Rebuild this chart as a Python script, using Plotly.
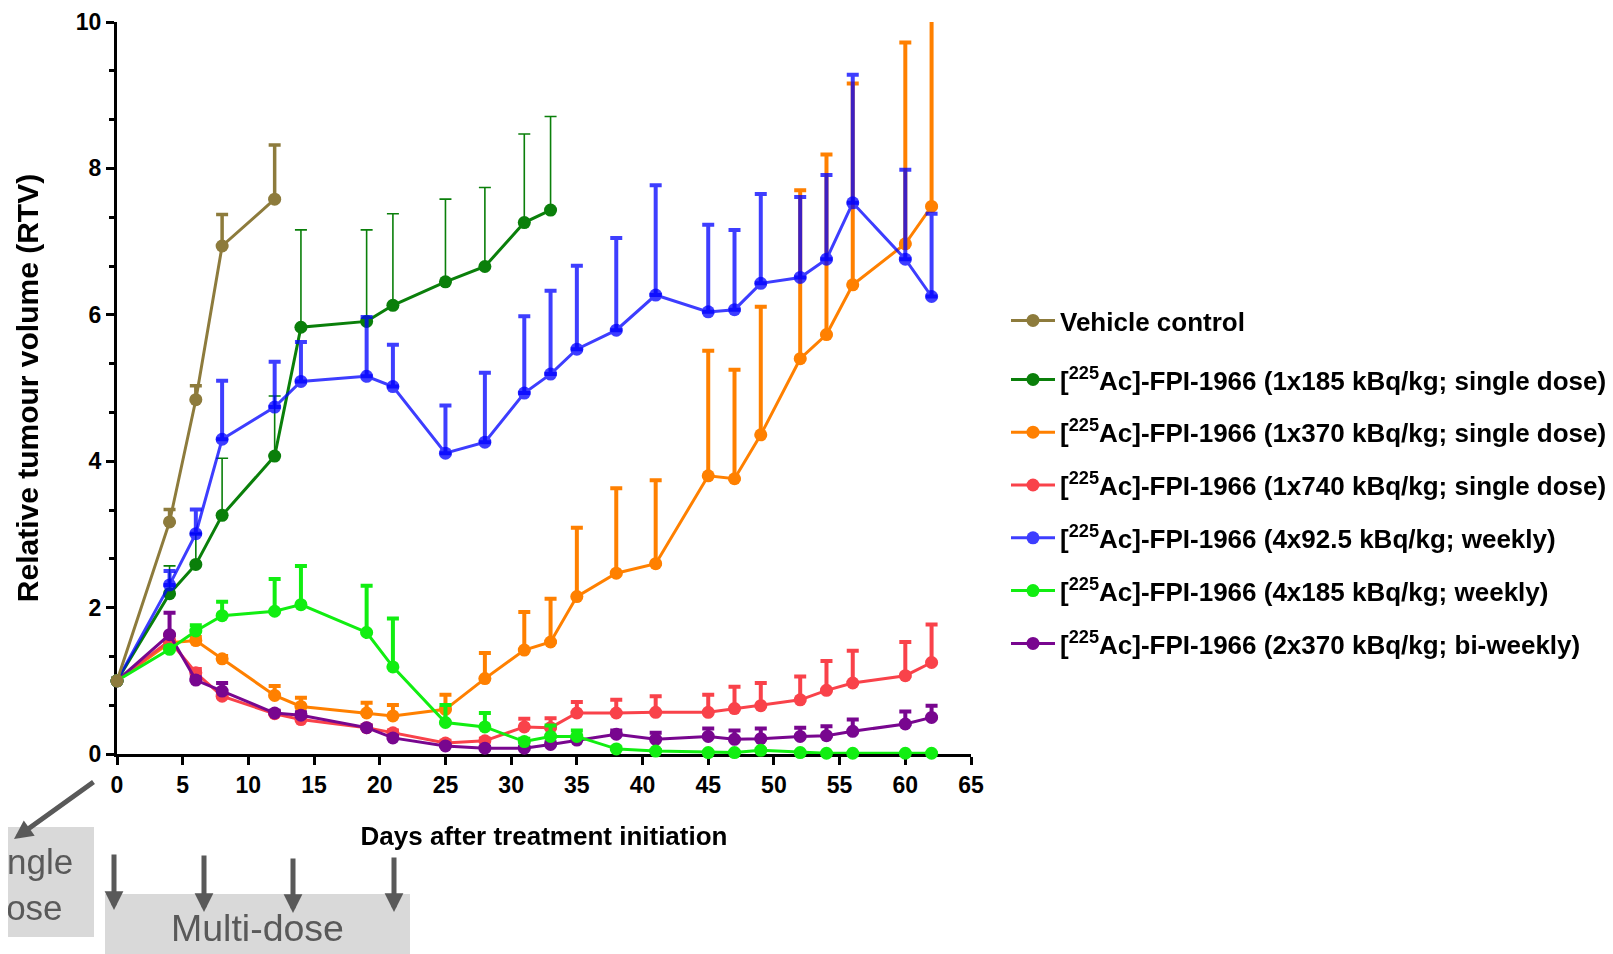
import plotly.graph_objects as go

# ---------------- data ----------------
days_vehicle = [0, 4, 6, 8, 12]
rtv_vehicle = [1.0, 3.17, 4.84, 6.94, 7.58]
err_vehicle = [0.0, 0.17, 0.19, 0.43, 0.74]

days_185 = [0, 4, 6, 8, 12, 14, 19, 21, 25, 28, 31, 33]
rtv_185 = [1.0, 2.19, 2.59, 3.26, 4.07, 5.83, 5.91, 6.13, 6.45, 6.66, 7.26, 7.43]
err_185 = [0.0, 0.38, 0.42, 0.78, 0.82, 1.33, 1.25, 1.25, 1.13, 1.08, 1.21, 1.28]

days_long = [0, 4, 6, 8, 12, 14, 19, 21, 25, 28, 31, 33, 35, 38, 41, 45, 47, 49, 52, 54, 56, 60, 62]

rtv_370 = [1.0, 1.52, 1.55, 1.30, 0.80, 0.65, 0.56, 0.52, 0.61, 1.03, 1.42, 1.53, 2.15, 2.47,
           2.60, 3.80, 3.76, 4.36, 5.40, 5.73, 6.41, 6.97, 7.48]
err_370 = [0.0, 0.10, 0.05, 0.04, 0.13, 0.12, 0.14, 0.15, 0.20, 0.35, 0.52, 0.59, 0.94, 1.16,
           1.14, 1.71, 1.49, 1.75, 2.30, 2.46, 2.75, 2.75, 3.00]

rtv_740 = [1.0, 1.55, 1.11, 0.79, 0.55, 0.47, 0.36, 0.29, 0.15, 0.18, 0.37, 0.36, 0.56, 0.56,
           0.57, 0.57, 0.62, 0.66, 0.74, 0.87, 0.97, 1.07, 1.25]
err_740 = [0.0, 0.08, 0.05, 0.05, 0.03, 0.04, 0.03, 0.03, 0.03, 0.03, 0.11, 0.13, 0.15, 0.18,
           0.22, 0.24, 0.30, 0.31, 0.32, 0.40, 0.44, 0.46, 0.52]

rtv_4x92 = [1.0, 2.31, 3.01, 4.30, 4.74, 5.09, 5.16, 5.02, 4.11, 4.26, 4.93, 5.19, 5.53, 5.79,
            6.27, 6.04, 6.07, 6.43, 6.51, 6.76, 7.53, 6.76, 6.25]
err_4x92 = [0.0, 0.19, 0.33, 0.80, 0.62, 0.54, 0.81, 0.57, 0.65, 0.95, 1.05, 1.14, 1.14, 1.26,
            1.50, 1.19, 1.09, 1.22, 1.10, 1.15, 1.75, 1.22, 1.13]

rtv_4x185 = [1.0, 1.43, 1.68, 1.89, 1.95, 2.04, 1.66, 1.19, 0.43, 0.37, 0.17, 0.24, 0.24, 0.07,
             0.04, 0.02, 0.02, 0.05, 0.02, 0.01, 0.01, 0.01, 0.01]
err_4x185 = [0.0, 0.04, 0.08, 0.19, 0.44, 0.53, 0.64, 0.66, 0.24, 0.19, 0.04, 0.15, 0.08, 0.02,
             0.01, 0.01, 0.01, 0.01, 0.01, 0.0, 0.0, 0.0, 0.0]

rtv_2x370 = [1.0, 1.63, 1.01, 0.86, 0.56, 0.53, 0.36, 0.22, 0.11, 0.08, 0.08, 0.13, 0.19, 0.27,
             0.20, 0.24, 0.20, 0.21, 0.24, 0.25, 0.31, 0.41, 0.50]
err_2x370 = [0.0, 0.30, 0.04, 0.11, 0.03, 0.04, 0.03, 0.03, 0.02, 0.02, 0.02, 0.03, 0.04, 0.05,
             0.09, 0.11, 0.12, 0.14, 0.12, 0.13, 0.16, 0.17, 0.16]

names = [
    "Vehicle control",
    "[<sup>225</sup>Ac]-FPI-1966 (1x185 kBq/kg; single dose)",
    "[<sup>225</sup>Ac]-FPI-1966 (1x370 kBq/kg; single dose)",
    "[<sup>225</sup>Ac]-FPI-1966 (1x740 kBq/kg; single dose)",
    "[<sup>225</sup>Ac]-FPI-1966 (4x92.5 kBq/kg; weekly)",
    "[<sup>225</sup>Ac]-FPI-1966 (4x185 kBq/kg; weekly)",
    "[<sup>225</sup>Ac]-FPI-1966 (2x370 kBq/kg; bi-weekly)",
]

x_ticks = [0, 5, 10, 15, 20, 25, 30, 35, 40, 45, 50, 55, 60, 65]
y_ticks = [0, 2, 4, 6, 8, 10]

# ---------------- styling ----------------
FONT = "Liberation Sans, Arial, sans-serif"
series = [
    # (days, values, errors, name index, color, opacity, err thickness, legend rank)
    (days_long, rtv_370, err_370, 2, "#FF8000", 1.0, 4, 3),
    (days_long, rtv_740, err_740, 3, "#F9424A", 1.0, 4, 4),
    (days_185, rtv_185, err_185, 1, "#0A7F0A", 1.0, 1.6, 2),
    (days_long, rtv_4x92, err_4x92, 4, "#0000FF", 0.76, 4, 5),
    (days_long, rtv_2x370, err_2x370, 6, "#78068F", 1.0, 4, 7),
    (days_long, rtv_4x185, err_4x185, 5, "#11EE11", 1.0, 4, 6),
    (days_vehicle, rtv_vehicle, err_vehicle, 0, "#8D7B3C", 1.0, 3.5, 1),
]

fig = go.Figure()
for days, vals, errs, ni, col, op, eth, rank in series:
    # error bars (clipped to the plotting area)
    fig.add_trace(go.Scatter(
        x=days, y=vals, mode="markers",
        marker=dict(size=1, color=col, opacity=0),
        error_y=dict(type="data", array=errs, arrayminus=[0] * len(errs), symmetric=False,
                     color=col, thickness=eth, width=6),
        opacity=op, cliponaxis=True, showlegend=False, hoverinfo="skip",
    ))
    # line + markers
    fig.add_trace(go.Scatter(
        x=days, y=vals, mode="lines+markers", name="<b>" + names[ni] + "</b>",
        line=dict(color=col, width=3),
        marker=dict(color=col, size=13),
        opacity=op, cliponaxis=False, legendrank=rank, legendgroup=str(rank),
        legend="legend" if ni == 0 else "legend2",
    ))

# ---------------- geometry (page has an 8px body margin) ----------------
W, H = 1605, 946
L, R, T, B = 109, 642, 14, 200
PW, PH = W - L - R, H - T - B
X0_REF, Y0_REF = 117, 754  # reference-pixel position of the axis origin


def px(x):
    return (x - X0_REF) / PW


def py(y):
    return (Y0_REF - y) / PH


shapes = [
    dict(type="rect", xref="paper", yref="paper", x0=px(-20), x1=px(94), y0=py(937), y1=py(827),
         fillcolor="#D9D9D9", line=dict(width=0), layer="below"),
    dict(type="rect", xref="paper", yref="paper", x0=px(105), x1=px(410), y0=py(975), y1=py(894),
         fillcolor="#D9D9D9", line=dict(width=0), layer="below"),
]

annotations = [
    dict(xref="paper", yref="paper", x=px(24), y=py(884), text="Single<br>dose", showarrow=False,
         xanchor="center", yanchor="middle", align="center",
         font=dict(family=FONT, size=35, color="#595959")),
    dict(xref="paper", yref="paper", x=px(257), y=py(928), text="Multi-dose", showarrow=False,
         xanchor="center", yanchor="middle",
         font=dict(family=FONT, size=37.5, color="#595959")),
]
arrows = [((14, 839), (95, 781)), ((114, 910), (114, 853)), ((204, 912), (204, 854)),
          ((293, 913), (293, 857)), ((394, 912), (394, 856))]
for (tx, ty), (sx, sy) in arrows:
    annotations.append(dict(xref="paper", yref="paper", x=px(tx), y=py(ty), text="",
                            showarrow=True, ax=sx - tx, ay=sy - ty, arrowhead=2, arrowsize=0.75,
                            arrowwidth=5, arrowcolor="#595959", standoff=0))

legend_font = dict(family=FONT, size=26, color="black")
fig.update_layout(
    width=W, height=H,
    margin=dict(l=L, r=R, t=T, b=B, autoexpand=False),
    plot_bgcolor="white", paper_bgcolor="white",
    font=dict(family=FONT, color="black"),
    shapes=shapes, annotations=annotations,
    legend=dict(x=px(1006), y=py(297), xanchor="left", yanchor="top", font=legend_font,
                itemwidth=44, bgcolor="rgba(0,0,0,0)"),
    legend2=dict(x=px(1006), y=py(356), xanchor="left", yanchor="top", font=legend_font,
                 tracegroupgap=16, itemwidth=44, bgcolor="rgba(0,0,0,0)"),
    showlegend=True,
)
fig.update_xaxes(
    range=[0, 65], tickmode="array", tickvals=x_ticks, ticktext=[str(v) for v in x_ticks],
    showgrid=False, zeroline=False, showline=True, linecolor="black", linewidth=3,
    ticks="outside", ticklen=8, tickwidth=3, tickcolor="black", layer="below traces",
    tickfont=dict(family=FONT, size=23, color="black", weight="bold"),
    title=dict(text="Days after treatment initiation", standoff=31,
               font=dict(family=FONT, size=26, color="black", weight="bold")),
)
fig.update_yaxes(
    range=[0, 10], tickmode="array", tickvals=y_ticks, ticktext=[str(v) for v in y_ticks],
    showgrid=False, zeroline=False, showline=True, linecolor="black", linewidth=3,
    ticks="outside", ticklen=8, tickwidth=3, tickcolor="black", layer="below traces",
    minor=dict(dtick=2 / 3, tick0=0, ticks="outside", ticklen=5, tickwidth=3, tickcolor="black",
               showgrid=False),
    tickfont=dict(family=FONT, size=23, color="black", weight="bold"),
    title=dict(text="Relative tumour volume (RTV)", standoff=29,
               font=dict(family=FONT, size=30, color="black", weight="bold")),
)

fig.write_html("out.html")
